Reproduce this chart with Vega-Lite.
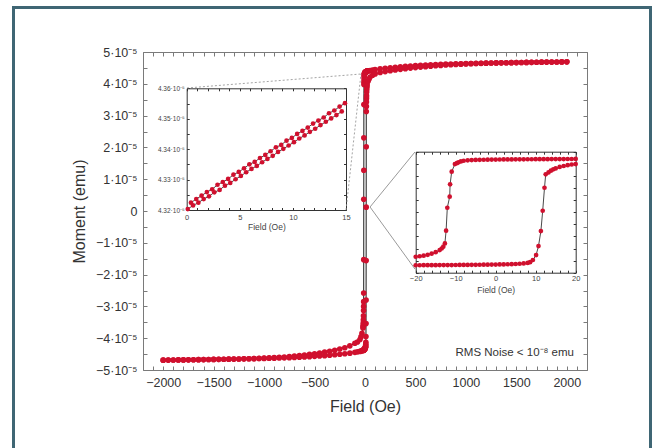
{
"$schema": "https://vega.github.io/schema/vega-lite/v6.json",
"width": 444,
"height": 318,
"autosize": {"type": "none"},
"padding": {"left": 143, "top": 52, "right": 73, "bottom": 78},
"background": "white",
"config": {
  "view": {"stroke": null},
  "font": "Liberation Sans",
  "axis": {"grid": false, "labelFlush": false, "labelOverlap": false, "titleFontWeight": "normal", "labelFont": "Liberation Sans", "titleFont": "Liberation Sans"}
},
"datasets": {
  "loop": [
    {"branch":"down","H":2000,"M":4.690e-5},{"branch":"down","H":1950,"M":4.688e-5},{"branch":"down","H":1900,"M":4.686e-5},{"branch":"down","H":1850,"M":4.684e-5},{"branch":"down","H":1800,"M":4.682e-5},{"branch":"down","H":1750,"M":4.680e-5},{"branch":"down","H":1700,"M":4.678e-5},{"branch":"down","H":1650,"M":4.675e-5},{"branch":"down","H":1600,"M":4.673e-5},{"branch":"down","H":1550,"M":4.670e-5},{"branch":"down","H":1500,"M":4.668e-5},{"branch":"down","H":1450,"M":4.665e-5},{"branch":"down","H":1400,"M":4.662e-5},{"branch":"down","H":1350,"M":4.659e-5},{"branch":"down","H":1300,"M":4.656e-5},{"branch":"down","H":1250,"M":4.653e-5},{"branch":"down","H":1200,"M":4.650e-5},{"branch":"down","H":1150,"M":4.646e-5},{"branch":"down","H":1100,"M":4.643e-5},{"branch":"down","H":1050,"M":4.639e-5},{"branch":"down","H":1000,"M":4.635e-5},{"branch":"down","H":950,"M":4.631e-5},{"branch":"down","H":900,"M":4.627e-5},{"branch":"down","H":850,"M":4.622e-5},{"branch":"down","H":800,"M":4.617e-5},{"branch":"down","H":750,"M":4.611e-5},{"branch":"down","H":700,"M":4.605e-5},{"branch":"down","H":650,"M":4.598e-5},{"branch":"down","H":600,"M":4.590e-5},{"branch":"down","H":550,"M":4.581e-5},{"branch":"down","H":500,"M":4.570e-5},{"branch":"down","H":450,"M":4.560e-5},{"branch":"down","H":400,"M":4.550e-5},{"branch":"down","H":350,"M":4.535e-5},{"branch":"down","H":300,"M":4.520e-5},{"branch":"down","H":250,"M":4.505e-5},{"branch":"down","H":200,"M":4.490e-5},{"branch":"down","H":150,"M":4.470e-5},{"branch":"down","H":100,"M":4.445e-5},{"branch":"down","H":75,"M":4.430e-5},{"branch":"down","H":50,"M":4.415e-5},{"branch":"down","H":40,"M":4.410e-5},{"branch":"down","H":30,"M":4.405e-5},
    {"branch":"down","H":20,"M":4.400e-5},{"branch":"down","H":19,"M":4.398e-5},{"branch":"down","H":18,"M":4.396e-5},{"branch":"down","H":17,"M":4.394e-5},{"branch":"down","H":16,"M":4.392e-5},{"branch":"down","H":15,"M":4.390e-5},{"branch":"down","H":14,"M":4.388e-5},{"branch":"down","H":13,"M":4.386e-5},{"branch":"down","H":12,"M":4.384e-5},{"branch":"down","H":11,"M":4.382e-5},{"branch":"down","H":10,"M":4.380e-5},{"branch":"down","H":9,"M":4.377e-5},{"branch":"down","H":8,"M":4.375e-5},{"branch":"down","H":7,"M":4.372e-5},{"branch":"down","H":6,"M":4.370e-5},{"branch":"down","H":5,"M":4.367e-5},{"branch":"down","H":4,"M":4.364e-5},{"branch":"down","H":3,"M":4.361e-5},{"branch":"down","H":2,"M":4.358e-5},{"branch":"down","H":1,"M":4.354e-5},{"branch":"down","H":0,"M":4.350e-5},{"branch":"down","H":-1,"M":4.346e-5},{"branch":"down","H":-2,"M":4.341e-5},{"branch":"down","H":-3,"M":4.335e-5},{"branch":"down","H":-4,"M":4.328e-5},{"branch":"down","H":-5,"M":4.318e-5},{"branch":"down","H":-6,"M":4.305e-5},{"branch":"down","H":-7,"M":4.285e-5},{"branch":"down","H":-8,"M":4.25e-5},{"branch":"down","H":-8.7,"M":4.20e-5},{"branch":"down","H":-9.3,"M":4.12e-5},{"branch":"down","H":-9.7,"M":4.05e-5},{"branch":"down","H":-10.2,"M":3.98e-5},{"branch":"down","H":-11,"M":3.35e-5},{"branch":"down","H":-11.4,"M":2.30e-5},{"branch":"down","H":-11.5,"M":1.28e-5},{"branch":"down","H":-12.1,"M":0.37e-5},{"branch":"down","H":-12.4,"M":-1.53e-5},{"branch":"down","H":-12.7,"M":-2.58e-5},{"branch":"down","H":-13.1,"M":-2.85e-5},{"branch":"down","H":-13.5,"M":-3.00e-5},{"branch":"down","H":-14,"M":-3.13e-5},{"branch":"down","H":-15,"M":-3.30e-5},{"branch":"down","H":-16,"M":-3.42e-5},{"branch":"down","H":-17,"M":-3.52e-5},{"branch":"down","H":-18,"M":-3.59e-5},{"branch":"down","H":-19,"M":-3.64e-5},{"branch":"down","H":-20,"M":-3.68e-5},
    {"branch":"down","H":-30,"M":-3.85e-5},{"branch":"down","H":-40,"M":-3.96e-5},{"branch":"down","H":-50,"M":-4.04e-5},{"branch":"down","H":-75,"M":-4.12e-5},{"branch":"down","H":-100,"M":-4.16e-5},{"branch":"down","H":-150,"M":-4.24e-5},{"branch":"down","H":-200,"M":-4.30e-5},{"branch":"down","H":-250,"M":-4.34e-5},{"branch":"down","H":-300,"M":-4.38e-5},{"branch":"down","H":-350,"M":-4.41e-5},{"branch":"down","H":-400,"M":-4.44e-5},{"branch":"down","H":-450,"M":-4.465e-5},{"branch":"down","H":-500,"M":-4.49e-5},{"branch":"down","H":-550,"M":-4.51e-5},{"branch":"down","H":-600,"M":-4.53e-5},{"branch":"down","H":-650,"M":-4.55e-5},{"branch":"down","H":-700,"M":-4.565e-5},{"branch":"down","H":-750,"M":-4.578e-5},{"branch":"down","H":-800,"M":-4.59e-5},{"branch":"down","H":-850,"M":-4.60e-5},{"branch":"down","H":-900,"M":-4.61e-5},{"branch":"down","H":-950,"M":-4.62e-5},{"branch":"down","H":-1000,"M":-4.627e-5},{"branch":"down","H":-1050,"M":-4.634e-5},{"branch":"down","H":-1100,"M":-4.640e-5},{"branch":"down","H":-1150,"M":-4.645e-5},{"branch":"down","H":-1200,"M":-4.650e-5},{"branch":"down","H":-1250,"M":-4.653e-5},{"branch":"down","H":-1300,"M":-4.656e-5},{"branch":"down","H":-1350,"M":-4.659e-5},{"branch":"down","H":-1400,"M":-4.662e-5},{"branch":"down","H":-1450,"M":-4.665e-5},{"branch":"down","H":-1500,"M":-4.668e-5},{"branch":"down","H":-1550,"M":-4.670e-5},{"branch":"down","H":-1600,"M":-4.673e-5},{"branch":"down","H":-1650,"M":-4.675e-5},{"branch":"down","H":-1700,"M":-4.678e-5},{"branch":"down","H":-1750,"M":-4.680e-5},{"branch":"down","H":-1800,"M":-4.682e-5},{"branch":"down","H":-1850,"M":-4.684e-5},{"branch":"down","H":-1900,"M":-4.686e-5},{"branch":"down","H":-1950,"M":-4.688e-5},{"branch":"down","H":-2000,"M":-4.690e-5},
    {"branch":"up","H":-2000,"M":-4.690e-5},{"branch":"up","H":-1950,"M":-4.688e-5},{"branch":"up","H":-1900,"M":-4.686e-5},{"branch":"up","H":-1850,"M":-4.684e-5},{"branch":"up","H":-1800,"M":-4.682e-5},{"branch":"up","H":-1750,"M":-4.680e-5},{"branch":"up","H":-1700,"M":-4.678e-5},{"branch":"up","H":-1650,"M":-4.675e-5},{"branch":"up","H":-1600,"M":-4.673e-5},{"branch":"up","H":-1550,"M":-4.670e-5},{"branch":"up","H":-1500,"M":-4.668e-5},{"branch":"up","H":-1450,"M":-4.665e-5},{"branch":"up","H":-1400,"M":-4.662e-5},{"branch":"up","H":-1350,"M":-4.659e-5},{"branch":"up","H":-1300,"M":-4.656e-5},{"branch":"up","H":-1250,"M":-4.653e-5},{"branch":"up","H":-1200,"M":-4.650e-5},{"branch":"up","H":-1150,"M":-4.646e-5},{"branch":"up","H":-1100,"M":-4.643e-5},{"branch":"up","H":-1050,"M":-4.639e-5},{"branch":"up","H":-1000,"M":-4.635e-5},{"branch":"up","H":-950,"M":-4.631e-5},{"branch":"up","H":-900,"M":-4.627e-5},{"branch":"up","H":-850,"M":-4.622e-5},{"branch":"up","H":-800,"M":-4.617e-5},{"branch":"up","H":-750,"M":-4.611e-5},{"branch":"up","H":-700,"M":-4.605e-5},{"branch":"up","H":-650,"M":-4.598e-5},{"branch":"up","H":-600,"M":-4.590e-5},{"branch":"up","H":-550,"M":-4.581e-5},{"branch":"up","H":-500,"M":-4.570e-5},{"branch":"up","H":-450,"M":-4.560e-5},{"branch":"up","H":-400,"M":-4.550e-5},{"branch":"up","H":-350,"M":-4.535e-5},{"branch":"up","H":-300,"M":-4.520e-5},{"branch":"up","H":-250,"M":-4.505e-5},{"branch":"up","H":-200,"M":-4.490e-5},{"branch":"up","H":-150,"M":-4.470e-5},{"branch":"up","H":-100,"M":-4.445e-5},{"branch":"up","H":-75,"M":-4.430e-5},{"branch":"up","H":-50,"M":-4.415e-5},{"branch":"up","H":-40,"M":-4.405e-5},{"branch":"up","H":-30,"M":-4.395e-5},
    {"branch":"up","H":-20,"M":-4.385e-5},{"branch":"up","H":-19,"M":-4.383e-5},{"branch":"up","H":-18,"M":-4.381e-5},{"branch":"up","H":-17,"M":-4.379e-5},{"branch":"up","H":-16,"M":-4.377e-5},{"branch":"up","H":-15,"M":-4.375e-5},{"branch":"up","H":-14,"M":-4.373e-5},{"branch":"up","H":-13,"M":-4.371e-5},{"branch":"up","H":-12,"M":-4.369e-5},{"branch":"up","H":-11,"M":-4.367e-5},{"branch":"up","H":-10,"M":-4.364e-5},{"branch":"up","H":-9,"M":-4.361e-5},{"branch":"up","H":-8,"M":-4.358e-5},{"branch":"up","H":-7,"M":-4.355e-5},{"branch":"up","H":-6,"M":-4.352e-5},{"branch":"up","H":-5,"M":-4.348e-5},{"branch":"up","H":-4,"M":-4.344e-5},{"branch":"up","H":-3,"M":-4.340e-5},{"branch":"up","H":-2,"M":-4.335e-5},{"branch":"up","H":-1,"M":-4.330e-5},{"branch":"up","H":0,"M":-4.325e-5},{"branch":"up","H":1,"M":-4.319e-5},{"branch":"up","H":2,"M":-4.312e-5},{"branch":"up","H":3,"M":-4.304e-5},{"branch":"up","H":4,"M":-4.294e-5},{"branch":"up","H":5,"M":-4.281e-5},{"branch":"up","H":6,"M":-4.262e-5},{"branch":"up","H":7,"M":-4.235e-5},{"branch":"up","H":8,"M":-4.19e-5},{"branch":"up","H":8.6,"M":-4.13e-5},{"branch":"up","H":9.3,"M":-3.95e-5},{"branch":"up","H":10.1,"M":-3.54e-5},{"branch":"up","H":10.7,"M":-2.80e-5},{"branch":"up","H":11.3,"M":-1.56e-5},{"branch":"up","H":11.75,"M":0.12e-5},{"branch":"up","H":12.2,"M":2.02e-5},{"branch":"up","H":12.5,"M":3.13e-5},{"branch":"up","H":13.2,"M":3.29e-5},{"branch":"up","H":13.8,"M":3.43e-5},{"branch":"up","H":14.4,"M":3.54e-5},{"branch":"up","H":15,"M":3.62e-5},{"branch":"up","H":16,"M":3.74e-5},{"branch":"up","H":17,"M":3.82e-5},{"branch":"up","H":18,"M":3.89e-5},{"branch":"up","H":19,"M":3.94e-5},{"branch":"up","H":20,"M":3.98e-5},
    {"branch":"up","H":30,"M":4.08e-5},{"branch":"up","H":40,"M":4.15e-5},{"branch":"up","H":50,"M":4.21e-5},{"branch":"up","H":75,"M":4.27e-5},{"branch":"up","H":100,"M":4.31e-5},{"branch":"up","H":150,"M":4.355e-5},{"branch":"up","H":200,"M":4.385e-5},{"branch":"up","H":250,"M":4.41e-5},{"branch":"up","H":300,"M":4.435e-5},{"branch":"up","H":350,"M":4.455e-5},{"branch":"up","H":400,"M":4.475e-5},{"branch":"up","H":450,"M":4.495e-5},{"branch":"up","H":500,"M":4.51e-5},{"branch":"up","H":550,"M":4.525e-5},{"branch":"up","H":600,"M":4.54e-5},{"branch":"up","H":650,"M":4.555e-5},{"branch":"up","H":700,"M":4.567e-5},{"branch":"up","H":750,"M":4.578e-5},{"branch":"up","H":800,"M":4.59e-5},{"branch":"up","H":850,"M":4.60e-5},{"branch":"up","H":900,"M":4.61e-5},{"branch":"up","H":950,"M":4.618e-5},{"branch":"up","H":1000,"M":4.625e-5},{"branch":"up","H":1050,"M":4.632e-5},{"branch":"up","H":1100,"M":4.638e-5},{"branch":"up","H":1150,"M":4.644e-5},{"branch":"up","H":1200,"M":4.650e-5},{"branch":"up","H":1250,"M":4.653e-5},{"branch":"up","H":1300,"M":4.656e-5},{"branch":"up","H":1350,"M":4.659e-5},{"branch":"up","H":1400,"M":4.662e-5},{"branch":"up","H":1450,"M":4.665e-5},{"branch":"up","H":1500,"M":4.668e-5},{"branch":"up","H":1550,"M":4.670e-5},{"branch":"up","H":1600,"M":4.673e-5},{"branch":"up","H":1650,"M":4.675e-5},{"branch":"up","H":1700,"M":4.678e-5},{"branch":"up","H":1750,"M":4.680e-5},{"branch":"up","H":1800,"M":4.682e-5},{"branch":"up","H":1850,"M":4.684e-5},{"branch":"up","H":1900,"M":4.686e-5},{"branch":"up","H":1950,"M":4.688e-5},{"branch":"up","H":2000,"M":4.690e-5}
  ],
  "minor": [
    {"branch":"a","H":0.4,"M":4.3224e-5},{"branch":"a","H":0.9,"M":4.3236e-5},{"branch":"a","H":1.4,"M":4.3247e-5},{"branch":"a","H":1.9,"M":4.3259e-5},{"branch":"a","H":2.4,"M":4.3268e-5},{"branch":"a","H":2.9,"M":4.3283e-5},{"branch":"a","H":3.4,"M":4.3292e-5},{"branch":"a","H":3.9,"M":4.3302e-5},{"branch":"a","H":4.4,"M":4.3316e-5},{"branch":"a","H":4.9,"M":4.3325e-5},{"branch":"a","H":5.4,"M":4.3337e-5},{"branch":"a","H":5.9,"M":4.3350e-5},{"branch":"a","H":6.4,"M":4.3358e-5},{"branch":"a","H":6.9,"M":4.3371e-5},{"branch":"a","H":7.4,"M":4.3381e-5},{"branch":"a","H":7.9,"M":4.3393e-5},{"branch":"a","H":8.4,"M":4.3406e-5},{"branch":"a","H":8.9,"M":4.3414e-5},{"branch":"a","H":9.4,"M":4.3428e-5},{"branch":"a","H":9.9,"M":4.3437e-5},{"branch":"a","H":10.4,"M":4.3450e-5},{"branch":"a","H":10.9,"M":4.3460e-5},{"branch":"a","H":11.4,"M":4.3471e-5},{"branch":"a","H":11.9,"M":4.3484e-5},{"branch":"a","H":12.4,"M":4.3494e-5},{"branch":"a","H":12.9,"M":4.3504e-5},{"branch":"a","H":13.4,"M":4.3518e-5},{"branch":"a","H":13.9,"M":4.3527e-5},{"branch":"a","H":14.4,"M":4.3540e-5},{"branch":"a","H":14.9,"M":4.3551e-5},
    {"branch":"b","H":0.1,"M":4.3203e-5},{"branch":"b","H":0.6,"M":4.3215e-5},{"branch":"b","H":1.1,"M":4.3224e-5},{"branch":"b","H":1.6,"M":4.3236e-5},{"branch":"b","H":2.1,"M":4.3245e-5},{"branch":"b","H":2.6,"M":4.3258e-5},{"branch":"b","H":3.1,"M":4.3266e-5},{"branch":"b","H":3.6,"M":4.3280e-5},{"branch":"b","H":4.1,"M":4.3289e-5},{"branch":"b","H":4.6,"M":4.3301e-5},{"branch":"b","H":5.1,"M":4.3312e-5},{"branch":"b","H":5.6,"M":4.3324e-5},{"branch":"b","H":6.1,"M":4.3335e-5},{"branch":"b","H":6.6,"M":4.3345e-5},{"branch":"b","H":7.1,"M":4.3357e-5},{"branch":"b","H":7.6,"M":4.3368e-5},{"branch":"b","H":8.1,"M":4.3378e-5},{"branch":"b","H":8.6,"M":4.3391e-5},{"branch":"b","H":9.1,"M":4.3401e-5},{"branch":"b","H":9.6,"M":4.3412e-5},{"branch":"b","H":10.1,"M":4.3423e-5},{"branch":"b","H":10.6,"M":4.3435e-5},{"branch":"b","H":11.1,"M":4.3445e-5},{"branch":"b","H":11.6,"M":4.3457e-5},{"branch":"b","H":12.1,"M":4.3467e-5},{"branch":"b","H":12.6,"M":4.3479e-5},{"branch":"b","H":13.1,"M":4.3490e-5},{"branch":"b","H":13.6,"M":4.3501e-5},{"branch":"b","H":14.1,"M":4.3512e-5},{"branch":"b","H":14.6,"M":4.3524e-5}
  ]
},
"layer": [
  {
    "data": {"values": [{"x": 0, "y": 0, "x2": 1, "y2": 1}]},
    "mark": {"type": "rect", "fill": "transparent", "stroke": "#3f6674", "strokeWidth": 3},
    "encoding": {
      "x": {"field": "x", "type": "quantitative", "scale": {"domain": [0, 1], "range": [-129.5, 507.5], "zero": false, "nice": false}, "axis": null},
      "x2": {"field": "x2"},
      "y": {"field": "y", "type": "quantitative", "scale": {"domain": [0, 1], "range": [408, -44.5], "zero": false, "nice": false}, "axis": null},
      "y2": {"field": "y2"}
    }
  },
  {
    "data": {"name": "loop"},
    "mark": {"type": "line", "color": "#1a1a1a", "strokeWidth": 1, "point": {"filled": true, "color": "#d0102e", "size": 32, "opacity": 1}},
    "encoding": {
      "x": {"field": "H", "type": "quantitative", "scale": {"domain": [-2200, 2200], "zero": false, "nice": false},
        "axis": {"orient": "bottom", "values": [-2200,-2100,-2000,-1900,-1800,-1700,-1600,-1500,-1400,-1300,-1200,-1100,-1000,-900,-800,-700,-600,-500,-400,-300,-200,-100,0,100,200,300,400,500,600,700,800,900,1000,1100,1200,1300,1400,1500,1600,1700,1800,1900,2000,2100,2200],
          "format": "d", "labelExpr": "datum.value % 500 === 0 && abs(datum.value) <= 2000 ? datum.label : ''",
          "tickSize": -4, "labelPadding": 10, "domainColor": "#7a7a7a", "tickColor": "#7a7a7a", "labelColor": "#333", "labelFontSize": 12.5,
          "title": "Field (Oe)", "titleFontSize": 16, "titleColor": "#333", "titlePadding": 10}},
      "y": {"field": "M", "type": "quantitative", "scale": {"domain": [-5e-5, 5e-5], "zero": false, "nice": false},
        "axis": {"orient": "left", "values": [-5e-5,-4.5e-5,-4e-5,-3.5e-5,-3e-5,-2.5e-5,-2e-5,-1.5e-5,-1e-5,-5e-6,0,5e-6,1e-5,1.5e-5,2e-5,2.5e-5,3e-5,3.5e-5,4e-5,4.5e-5,5e-5],
          "labelExpr": "abs(datum.value*1e5 - round(datum.value*1e5)) > 0.01 ? '' : (datum.value === 0 ? '0' : (datum.value < 0 ? '−' : '') + abs(round(datum.value*1e5)) + '·10⁻⁵')",
          "tickSize": -4, "labelPadding": 10, "domainColor": "#7a7a7a", "tickColor": "#7a7a7a", "labelColor": "#333", "labelFontSize": 12.5,
          "title": "Moment (emu)", "titleFontSize": 16, "titleColor": "#333", "titlePadding": 8}},
      "detail": {"field": "branch"}
    }
  },
  {
    "data": {"values": [{"H": -1764, "M": 3.868e-5, "H2": -40, "M2": 4.308e-5}, {"H": -188, "M": 3.1e-7, "H2": -40, "M2": 4.308e-5}]},
    "mark": {"type": "rule", "color": "#8c8c8c", "strokeWidth": 0.8, "strokeDash": [2, 2]},
    "encoding": {
      "x": {"field": "H", "type": "quantitative", "scale": {"domain": [-2200, 2200], "zero": false, "nice": false},
        "axis": {"orient": "top", "values": [-2200,-2100,-2000,-1900,-1800,-1700,-1600,-1500,-1400,-1300,-1200,-1100,-1000,-900,-800,-700,-600,-500,-400,-300,-200,-100,0,100,200,300,400,500,600,700,800,900,1000,1100,1200,1300,1400,1500,1600,1700,1800,1900,2000,2100,2200],
          "labels": false, "tickSize": -4, "domainColor": "#7a7a7a", "tickColor": "#7a7a7a", "title": null}},
      "x2": {"field": "H2"},
      "y": {"field": "M", "type": "quantitative", "scale": {"domain": [-5e-5, 5e-5], "zero": false, "nice": false},
        "axis": {"orient": "right", "values": [-5e-5,-4.5e-5,-4e-5,-3.5e-5,-3e-5,-2.5e-5,-2e-5,-1.5e-5,-1e-5,-5e-6,0,5e-6,1e-5,1.5e-5,2e-5,2.5e-5,3e-5,3.5e-5,4e-5,4.5e-5,5e-5],
          "labels": false, "tickSize": -4, "domainColor": "#7a7a7a", "tickColor": "#7a7a7a", "title": null}},
      "y2": {"field": "M2"}
    }
  },
  {
    "data": {"values": [{"H": 495, "M": 1.855e-5, "H2": 50, "M2": 0.126e-5}, {"H": 495, "M": -1.824e-5, "H2": 50, "M2": 0.126e-5}]},
    "mark": {"type": "rule", "color": "#9a9a9a", "strokeWidth": 1},
    "encoding": {
      "x": {"field": "H", "type": "quantitative", "scale": {"domain": [-2200, 2200], "zero": false, "nice": false}, "axis": null},
      "x2": {"field": "H2"},
      "y": {"field": "M", "type": "quantitative", "scale": {"domain": [-5e-5, 5e-5], "zero": false, "nice": false}, "axis": null},
      "y2": {"field": "M2"}
    }
  },
  {
    "data": {"values": [{"H": 2071, "M": -4.465e-5, "note": "RMS Noise < 10⁻⁸ emu"}]},
    "mark": {"type": "text", "align": "right", "baseline": "middle", "fontSize": 11.5, "color": "#333"},
    "encoding": {
      "x": {"field": "H", "type": "quantitative", "scale": {"domain": [-2200, 2200], "zero": false, "nice": false}, "axis": null},
      "y": {"field": "M", "type": "quantitative", "scale": {"domain": [-5e-5, 5e-5], "zero": false, "nice": false}, "axis": null},
      "text": {"field": "note"}
    }
  },
  {
    "data": {"name": "minor"},
    "mark": {"type": "line", "color": "#1a1a1a", "strokeWidth": 0.8, "point": {"filled": true, "color": "#d0102e", "size": 22, "opacity": 1}},
    "encoding": {
      "x": {"field": "H", "type": "quantitative", "scale": {"domain": [0, 15], "range": [43.7, 203], "zero": false, "nice": false},
        "axis": {"orient": "bottom", "offset": -160, "values": [0,1,2,3,4,5,6,7,8,9,10,11,12,13,14,15],
          "labelExpr": "datum.value % 5 === 0 ? datum.label : ''",
          "tickSize": -2.5, "labelPadding": 5.5, "domainColor": "#333", "tickColor": "#333", "labelColor": "#444", "labelFontSize": 7.5,
          "title": "Field (Oe)", "titleFontSize": 8.5, "titleColor": "#444", "titlePadding": 2}},
      "y": {"field": "M", "type": "quantitative", "scale": {"domain": [4.32e-5, 4.36e-5], "range": [158, 36.3], "zero": false, "nice": false},
        "axis": {"orient": "left", "offset": -43.7, "values": [4.32e-5,4.325e-5,4.33e-5,4.335e-5,4.34e-5,4.345e-5,4.35e-5,4.355e-5,4.36e-5],
          "labelExpr": "abs(datum.value*1e7 - round(datum.value*1e7)) > 0.01 ? '' : format(datum.value*1e5, '.2f') + '·10⁻⁵'",
          "tickSize": -2.5, "labelPadding": 5, "domainColor": "#333", "tickColor": "#333", "labelColor": "#444", "labelFontSize": 6.5, "title": null}},
      "detail": {"field": "branch"}
    }
  },
  {
    "data": {"values": [{"H": 0, "M": 4.32e-5}]},
    "mark": {"type": "point", "opacity": 0},
    "encoding": {
      "x": {"field": "H", "type": "quantitative", "scale": {"domain": [0, 15], "range": [43.7, 203], "zero": false, "nice": false},
        "axis": {"orient": "top", "offset": -36.3, "values": [0,1,2,3,4,5,6,7,8,9,10,11,12,13,14,15], "labels": false, "tickSize": -2.5, "domainColor": "#333", "tickColor": "#333", "title": null}},
      "y": {"field": "M", "type": "quantitative", "scale": {"domain": [4.32e-5, 4.36e-5], "range": [158, 36.3], "zero": false, "nice": false},
        "axis": {"orient": "right", "offset": -241, "values": [4.32e-5,4.325e-5,4.33e-5,4.335e-5,4.34e-5,4.345e-5,4.35e-5,4.355e-5,4.36e-5], "labels": false, "tickSize": -2.5, "domainColor": "#333", "tickColor": "#333", "title": null}}
    }
  },
  {
    "data": {"name": "loop"},
    "transform": [{"filter": {"field": "H", "range": [-20, 20]}}],
    "mark": {"type": "line", "color": "#1a1a1a", "strokeWidth": 0.8, "point": {"filled": true, "color": "#d0102e", "size": 22, "opacity": 1}},
    "encoding": {
      "x": {"field": "H", "type": "quantitative", "scale": {"domain": [-20, 20], "range": [272.7, 432.7], "zero": false, "nice": false},
        "axis": {"orient": "bottom", "offset": -97.3, "values": [-20,-18,-16,-14,-12,-10,-8,-6,-4,-2,0,2,4,6,8,10,12,14,16,18,20],
          "format": "d", "labelExpr": "datum.value % 10 === 0 ? datum.label : ''",
          "tickSize": -2.5, "labelPadding": 4.5, "domainColor": "#333", "tickColor": "#333", "labelColor": "#444", "labelFontSize": 7.5,
          "title": "Field (Oe)", "titleFontSize": 8.5, "titleColor": "#444", "titlePadding": 3}},
      "y": {"field": "M", "type": "quantitative", "scale": {"domain": [-5e-5, 5e-5], "range": [220.7, 99.7], "zero": false, "nice": false},
        "axis": {"orient": "left", "offset": -272.7, "values": [-5e-5,-4e-5,-3e-5,-2e-5,-1e-5,0,1e-5,2e-5,3e-5,4e-5,5e-5], "labels": false,
          "tickSize": -2.5, "domainColor": "#333", "tickColor": "#333", "title": null}},
      "detail": {"field": "branch"}
    }
  },
  {
    "data": {"values": [{"H": 0, "M": 0}]},
    "mark": {"type": "point", "opacity": 0},
    "encoding": {
      "x": {"field": "H", "type": "quantitative", "scale": {"domain": [-20, 20], "range": [272.7, 432.7], "zero": false, "nice": false},
        "axis": {"orient": "top", "offset": -99.7, "values": [-20,-18,-16,-14,-12,-10,-8,-6,-4,-2,0,2,4,6,8,10,12,14,16,18,20], "labels": false, "tickSize": -2.5, "domainColor": "#333", "tickColor": "#333", "title": null}},
      "y": {"field": "M", "type": "quantitative", "scale": {"domain": [-5e-5, 5e-5], "range": [220.7, 99.7], "zero": false, "nice": false},
        "axis": {"orient": "right", "offset": -11.3, "values": [-5e-5,-4e-5,-3e-5,-2e-5,-1e-5,0,1e-5,2e-5,3e-5,4e-5,5e-5], "labels": false, "tickSize": -2.5, "domainColor": "#333", "tickColor": "#333", "title": null}}
    }
  }
],
"resolve": {"scale": {"x": "independent", "y": "independent"}, "axis": {"x": "independent", "y": "independent"}}
}
